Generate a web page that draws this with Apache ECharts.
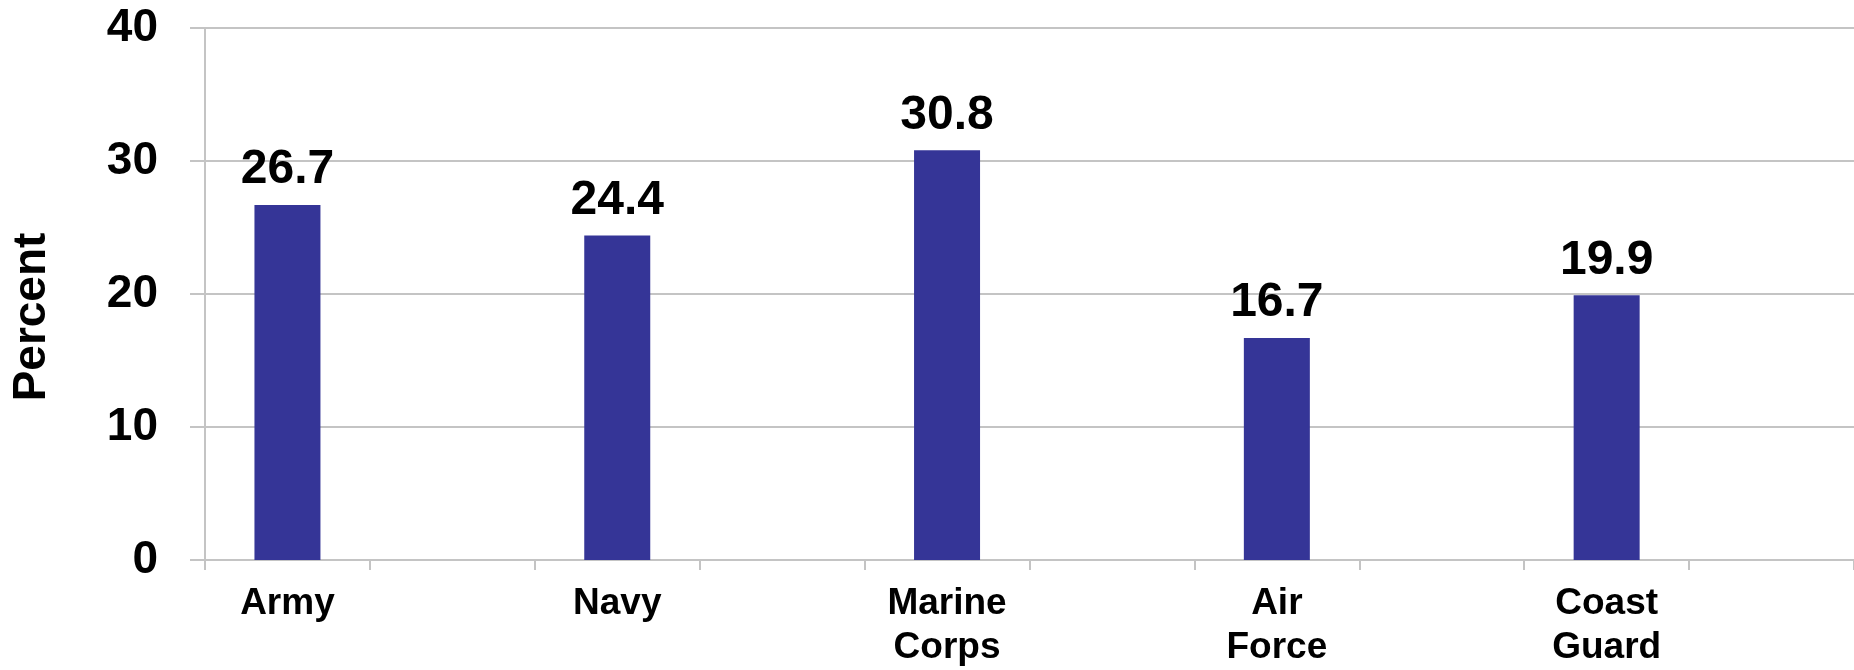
<!DOCTYPE html>
<html>
<head>
<meta charset="utf-8">
<style>
  html, body { margin: 0; padding: 0; background: #ffffff; }
  #chart { width: 1854px; height: 670px; }
</style>
<script src="https://cdn.jsdelivr.net/npm/echarts@6/dist/echarts.min.js"></script>
</head>
<body>
<div id="chart"></div>
<script>
// Data
const services = ['Army', 'Navy', 'Marine\nCorps', 'Air\nForce', 'Coast\nGuard'];
const percents = [26.7, 24.4, 30.8, 16.7, 19.9];
const yAxisName = 'Percent';

// Each service is followed by an empty slot, as in the reference
const axisCategories = [];
const seriesValues = [];
services.forEach(function (s, i) {
  axisCategories.push(s);
  seriesValues.push(percents[i]);
  axisCategories.push('');
  seriesValues.push('-');
});

const font = 'Liberation Sans, Arial, Helvetica, sans-serif';
const gridGrey = '#c4c4c4';

const chart = echarts.init(document.getElementById('chart'), null, { renderer: 'canvas' });
chart.setOption({
  animation: false,
  backgroundColor: '#ffffff',
  grid: { left: 205, right: -9, top: 28, bottom: 107, containLabel: false },
  xAxis: {
    type: 'category',
    data: axisCategories,
    boundaryGap: true,
    axisLine: { show: true, lineStyle: { color: gridGrey, width: 2 } },
    axisTick: { show: true, length: 10, lineStyle: { color: gridGrey, width: 2 } },
    axisLabel: {
      interval: 0,
      margin: 22,
      color: '#000000',
      fontFamily: font,
      fontWeight: 'bold',
      fontSize: 37,
      lineHeight: 44
    }
  },
  yAxis: {
    type: 'value',
    min: 0,
    max: 40,
    interval: 10,
    name: yAxisName,
    nameLocation: 'middle',
    nameRotate: 90,
    nameGap: 150,
    nameTextStyle: {
      color: '#000000',
      fontFamily: font,
      fontWeight: 'bold',
      fontSize: 46,
      padding: [0, 46, 0, 0]
    },
    axisLine: { show: true, lineStyle: { color: gridGrey, width: 2 } },
    axisTick: { show: true, length: 15, lineStyle: { color: gridGrey, width: 2 } },
    splitLine: { show: true, lineStyle: { color: gridGrey, width: 2 } },
    axisLabel: {
      margin: 47,
      color: '#000000',
      fontFamily: font,
      fontWeight: 'bold',
      fontSize: 46
    }
  },
  series: [{
    type: 'bar',
    data: seriesValues,
    barWidth: 66,
    itemStyle: { color: '#353597' },
    label: {
      show: true,
      position: 'top',
      distance: 11,
      color: '#000000',
      fontFamily: font,
      fontWeight: 'bold',
      fontSize: 48,
      formatter: function (p) { return p.value.toFixed(1); }
    }
  }]
});
</script>
</body>
</html>
